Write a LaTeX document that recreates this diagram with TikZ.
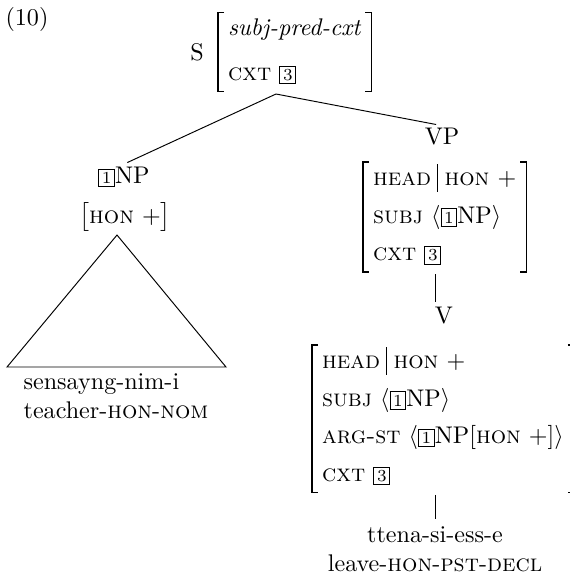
\documentclass[tikz,border=0pt]{standalone}
\usetikzlibrary{positioning}
\newcommand{\kw}[1]{\textsc{#1}}
\newcommand{\tagbox}[1]{{\setlength{\fboxsep}{1.1pt}\fbox{\scriptsize #1}}}
\newcommand{\pathbar}{\hspace{2.6pt}\rule[-2.6pt]{0.4pt}{11.4pt}\hspace{2.6pt}}
\tikzset{
  cat/.style={inner sep=1pt},
  avm/.style={inner xsep=4pt, inner ysep=0.8pt},
  avmbar/.style={line width=0.55pt},
}
\newcommand{\avmbrackets}[1]{%
  \draw[avmbar] ([xshift=2.5pt]#1.north west) -- (#1.north west) -- (#1.south west) -- ([xshift=2.5pt]#1.south west);
  \draw[avmbar] ([xshift=-2.5pt]#1.north east) -- (#1.north east) -- (#1.south east) -- ([xshift=-2.5pt]#1.south east);}

\begin{document}
\begin{tikzpicture}[x=0.415pt, y=-0.415pt]
    \useasboundingbox (0,0) rectangle (570,574);
    \node (ex) at (27,19) {(10)};
    \node[cat] (S) at (197,52) {S};
    \node[avm, anchor=west] (Savm) at (218,52) {\begin{tabular}{@{}l@{}}\textit{subj-pred-cxt}\\[6.8pt]\kw{cxt} \tagbox{3}\end{tabular}};
    \avmbrackets{Savm}
    \coordinate (Sroot) at (276,94);
    \node[cat] (NP) at (124,177) {\tagbox{1}NP};
    \node[cat] (NPhon) at (125,217) {$\big[$\kw{hon} $+\big]$};
    \coordinate (NPtop) at (117,235);
    \coordinate (NPleft) at (7,367);
    \coordinate (NPright) at (226,367);
    \node[align=left] (NPw) at (116,396) {sensayng-nim-i\\teacher-\kw{hon}-\kw{nom}};
    \node[cat] (VP) at (442,137) {VP};
    \node[avm, anchor=north west] (VPavm) at (363,162) {\begin{tabular}{@{}l@{}}\kw{head}\pathbar\kw{hon} $+$\\[3.6pt]\kw{subj} $\langle$\tagbox{1}NP$\rangle$\\[3.6pt]\kw{cxt} \tagbox{3}\end{tabular}};
    \avmbrackets{VPavm}
    \node[cat] (V) at (444,316) {V};
    \node[avm, anchor=north west] (Vavm) at (312,345) {\begin{tabular}{@{}l@{}}\kw{head}\pathbar\kw{hon} $+$\\[3.6pt]\kw{subj} $\langle$\tagbox{1}NP$\rangle$\\[3.6pt]\kw{arg-st} $\langle$\tagbox{1}NP$[$\kw{hon} $+]\rangle$\\[3.6pt]\kw{cxt} \tagbox{3}\end{tabular}};
    \avmbrackets{Vavm}
    \node[align=center, inner sep=1pt] (Vw) at (435,549) {ttena-si-ess-e\\leave-\kw{hon}-\kw{pst}-\kw{decl}};
    \path (Sroot) edge[shorten >=1.5pt] (NP.north);
    \path (Sroot) edge[shorten >=2.5pt] (VP.north);
    \draw (NPtop) -- (NPleft) -- (NPright) -- cycle;
    \path ([yshift=-1pt]VPavm.south -| Vw.north) edge ([yshift=1pt]V.north -| Vw.north);
    \path ([yshift=-1pt]Vavm.south -| Vw.north) edge ([yshift=2pt]Vw.north);
  \end{tikzpicture}
\end{document}
